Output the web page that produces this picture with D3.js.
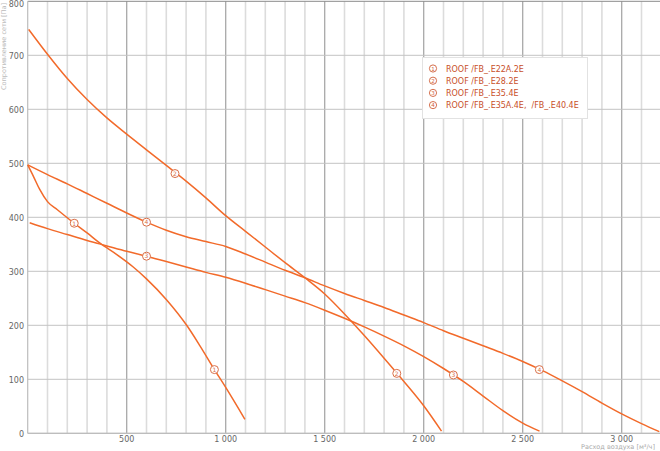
<!DOCTYPE html>
<html><head><meta charset="utf-8">
<script src="https://cdn.jsdelivr.net/npm/d3@7"></script>
<style>
html,body{margin:0;padding:0;background:#fff;}
svg{display:block;font-family:"DejaVu Sans",Verdana,sans-serif;}
</style></head>
<body><svg id="c" width="660" height="451"></svg>
<script>
const seriesNames = ["ROOF /FB_.E22A.2E","ROOF /FB_.E28.2E","ROOF /FB_.E35.4E","ROOF /FB_.E35A.4E,  /FB_.E40.4E"];
const seriesIds = ["1","2","3","4"];
const curve1 = [[0,497],[30,475],[60,452],[100,429],[150,414],[235,389],[300,371],[365,352],[450,331],[533,308],[600,286],[702,247],[803,200],[870,162],[943,118],[1000,85],[1097,26]];
const curve2 = [[5,748],[100,702],[200,657],[300,618],[400,584],[500,554],[600,525],[700,496],[800,467],[900,436],[1000,403],[1100,374],[1200,345],[1300,316],[1400,288],[1500,258],[1600,221],[1700,181],[1800,139],[1900,96],[2000,51],[2090,4]];
const curve3 = [[10,390],[100,379],[200,368],[300,357],[400,347],[500,337],[600,328],[700,318],[800,308],[900,298],[1000,289],[1100,278],[1200,266],[1300,254],[1400,242],[1500,228],[1600,213],[1700,197],[1800,180],[1900,162],[2000,142],[2100,120],[2200,96],[2300,69],[2400,42],[2500,19],[2585,4]];
const curve4 = [[0,497],[100,479],[200,462],[300,444],[400,426],[500,408],[600,391],[700,376],[800,364],[900,355],[1000,346],[1100,332],[1200,317],[1300,302],[1400,288],[1500,273],[1600,259],[1700,246],[1800,233],[1900,219],[2000,205],[2100,190],[2200,176],[2300,162],[2400,148],[2500,133],[2600,116],[2700,97],[2800,77],[2900,56],[3000,36],[3100,18],[3190,3]];
const markers1 = [[235,389],[943,118]];
const markers2 = [[744,481],[1864,111]];
const markers3 = [[600,328],[2150,108]];
const markers4 = [[600,391],[2584,118]];
const xTicks = [500,1000,1500,2000,2500,3000];
const yTicks = [0,100,200,300,400,500,600,700,800];
const xTitle = "Расход воздуха [м³/ч]";
const yTitle = "Сопротивление сети [Па]";

const curves = [curve1,curve2,curve3,curve4];
const markers = [markers1,markers2,markers3,markers4];

const svg = d3.select("#c");
const x = d3.scaleLinear().domain([0,3200]).range([27.7,661.3]);
const y = d3.scaleLinear().domain([0,800]).range([433.3,1.3]);
const fmt = v => d3.format(",")(v).replace(/,/g," ");

const grid = svg.append("g");
grid.selectAll("line.v").data(d3.range(100,3201,100)).join("line")
  .attr("x1",d=>x(d)).attr("x2",d=>x(d)).attr("y1",y(800)).attr("y2",y(0))
  .attr("stroke",d=>d%500===0?"#a8a8a8":"#dcdcdc")
  .attr("stroke-width",d=>d%500===0?1.3:1.6);
grid.selectAll("line.h").data(yTicks).join("line")
  .attr("x1",x(0)).attr("x2",660).attr("y1",d=>y(d)).attr("y2",d=>y(d))
  .attr("stroke",d=>d===800?"#8a8a8a":"#c4c4c4").attr("stroke-width",1);
grid.append("line").attr("x1",x(0)).attr("x2",x(0)).attr("y1",y(800)).attr("y2",y(0)).attr("stroke","#bdbdbd").attr("stroke-width",1.2);
grid.append("line").attr("x1",x(0)).attr("x2",660).attr("y1",y(0)).attr("y2",y(0)).attr("stroke","#bdbdbd").attr("stroke-width",1.2);

svg.append("g").selectAll("text").data(yTicks).join("text")
  .attr("x",24).attr("y",d=>d===800?6.5:y(d)+3.5).attr("text-anchor","end")
  .attr("font-size",8).attr("fill","#666").text(d=>d);
svg.append("g").selectAll("text").data(xTicks).join("text")
  .attr("x",d=>x(d)).attr("y",442).attr("text-anchor","middle")
  .attr("font-size",8).attr("fill","#666").text(d=>fmt(d));
svg.append("text").attr("x",655).attr("y",449).attr("text-anchor","end")
  .attr("font-size",6.5).attr("fill","#aaa").text(xTitle);
svg.append("text").attr("transform","translate(6,3) rotate(-90)").attr("text-anchor","end")
  .attr("font-size",6.5).attr("fill","#bbb").text(yTitle);

const line = d3.line().x(d=>x(d[0])).y(d=>y(d[1])).curve(d3.curveMonotoneX);
const col = "#f26a2a";
svg.append("g").selectAll("path").data(curves).join("path")
  .attr("d",line).attr("fill","none").attr("stroke",col).attr("stroke-width",1.5);

const mcol = "#d9704a";
markers.forEach((ms,i)=>{
  const g = svg.append("g");
  ms.forEach(m=>{
    g.append("circle").attr("cx",x(m[0])).attr("cy",y(m[1])).attr("r",4)
      .attr("fill","#fff").attr("stroke",mcol).attr("stroke-width",1);
    g.append("text").attr("x",x(m[0])).attr("y",y(m[1])+2.3).attr("text-anchor","middle")
      .attr("font-size",6).attr("fill",mcol).text(seriesIds[i]);
  });
});

const lg = svg.append("g");
lg.append("rect").attr("x",422.5).attr("y",57.5).attr("width",165).attr("height",61)
  .attr("fill","#fff").attr("stroke","#e2e2e2");
seriesNames.forEach((n,i)=>{
  const cy = 68.5 + i*12.2;
  lg.append("circle").attr("cx",433).attr("cy",cy).attr("r",3.6).attr("fill","#fff").attr("stroke","#d0603a").attr("stroke-width",0.9);
  lg.append("text").attr("x",433).attr("y",cy+2).attr("text-anchor","middle").attr("font-size",5.5).attr("fill","#d0603a").text(seriesIds[i]);
  lg.append("text").attr("x",446).attr("y",cy+3).attr("font-size",8).attr("fill","#c8502a").attr("xml:space","preserve").style("white-space","pre").text(n);
});
</script></body></html>
